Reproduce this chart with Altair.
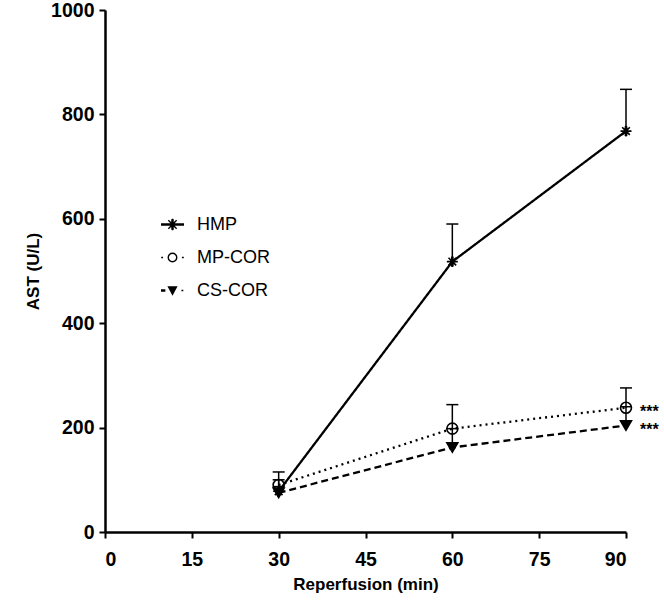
import altair as alt
import pandas as pd

# Reperfusion time points (min)
times = [30, 60, 90]

# Group names, in legend order
groups = ["HMP", "MP-COR", "CS-COR"]

# AST means and upper SD per group
hmp_mean = [78, 518, 768]
hmp_sd = [22, 72, 80]
mpcor_mean = [90, 198, 238]
mpcor_sd = [25, 46, 38]
cscor_mean = [75, 162, 204]
cscor_sd = [12, 36, 36]

# Significance markers at the last time point
sig_groups = ["MP-COR", "CS-COR"]
sig_labels = ["***", "***"]

means = {"HMP": hmp_mean, "MP-COR": mpcor_mean, "CS-COR": cscor_mean}
sds = {"HMP": hmp_sd, "MP-COR": mpcor_sd, "CS-COR": cscor_sd}

rows = []
for g in groups:
    for t, m, s in zip(times, means[g], sds[g]):
        rows.append({"group": g, "grp": g, "time": t, "mean": m, "upper": m + s})
df = pd.DataFrame(rows)

sig_df = pd.DataFrame({
    "group": sig_groups,
    "label": sig_labels,
    "time": [times[-1]] * len(sig_groups),
    "mean": [means[g][-1] for g in sig_groups],
})

FONT = "Liberation Sans"

# Marker shapes used on the plot
ASTERISK = ("M-1,0L1,0M0,-1L0,1M-0.7,-0.7L0.7,0.7M-0.7,0.7L0.7,-0.7"
            "M-0.1,-0.9L-0.1,0.9M0.1,-0.9L0.1,0.9")
MARKERS = [ASTERISK, "circle", "triangle-down"]

# Legend keys: line sample + marker drawn as stroked paths
KEY_HMP = ("M-1,-0.05L1,-0.05M-1,0.05L1,0.05"
           "M-0.5,0L0.5,0M0,-0.5L0,0.5"
           "M-0.36,-0.36L0.36,0.36M-0.36,0.36L0.36,-0.36"
           "M-0.05,-0.45L-0.05,0.45M0.05,-0.45L0.05,0.45")
KEY_MP = ("M-0.98,0L-0.82,0M0.82,0L0.98,0"
          "M0.37,0A0.37,0.37 0 1,0 -0.37,0A0.37,0.37 0 1,0 0.37,0Z")
KEY_CS = ("M-1,-0.05L-0.62,-0.05M-1,0.05L-0.62,0.05M0.78,0L0.94,0"
          "M-0.34,-0.3L0.34,-0.3L0,0.32Z"
          "M-0.285,-0.2L0.285,-0.2M-0.23,-0.1L0.23,-0.1"
          "M-0.175,0L0.175,0M-0.12,0.1L0.12,0.1M-0.066,0.2L0.066,0.2")

x_enc = alt.X("time:Q", scale=alt.Scale(domain=[0, 90], nice=False),
              axis=alt.Axis(values=[0, 15, 30, 45, 60, 75, 90],
                            title="Reperfusion (min)"))
y_enc = alt.Y("mean:Q", scale=alt.Scale(domain=[0, 1000], nice=False),
              axis=alt.Axis(values=[0, 200, 400, 600, 800, 1000], format="d",
                            title="AST (U/L)"))

base = alt.Chart(df)

# Upper error bars with caps
err = base.mark_rule(color="black", strokeWidth=1.5).encode(
    x=x_enc, y=y_enc, y2="upper:Q"
)
caps = base.mark_tick(color="black", orient="horizontal", size=12,
                      thickness=1.5, opacity=1).encode(
    x="time:Q", y="upper:Q"
)

lines = base.mark_line(color="black", strokeWidth=2.3).encode(
    x="time:Q",
    y="mean:Q",
    detail="group:N",
    strokeDash=alt.StrokeDash(
        "grp:N",
        scale=alt.Scale(domain=groups, range=[[1, 0], [2, 4], [7, 4]]),
        legend=None,
    ),
)

points = base.mark_point(stroke="black", strokeWidth=1.6, opacity=1,
                         size=120).encode(
    x="time:Q",
    y="mean:Q",
    shape=alt.Shape("grp:N", scale=alt.Scale(domain=groups, range=MARKERS),
                    legend=None),
    fill=alt.Fill("grp:N",
                  scale=alt.Scale(domain=groups,
                                  range=["black", "transparent", "black"]),
                  legend=None),
)

# Legend carrier: no marks drawn, entries come from the explicit domain
legend_layer = base.transform_filter("false").mark_point(
    filled=False, color="black", strokeWidth=1.4, opacity=1
).encode(
    x="time:Q",
    y="mean:Q",
    shape=alt.Shape(
        "group:N",
        scale=alt.Scale(domain=groups, range=[KEY_HMP, KEY_MP, KEY_CS]),
        legend=alt.Legend(
            title=None, orient="none", legendX=55, legendY=202,
            symbolSize=529, symbolStrokeWidth=1.4, symbolStrokeColor="black",
            symbolOpacity=1,
            labelFont=FONT, labelFontSize=18, labelColor="black",
            labelOffset=12, rowPadding=11, padding=0,
        ),
    ),
)

sig = alt.Chart(sig_df).mark_text(
    align="left", baseline="middle", dx=14, dy=4, font=FONT,
    fontWeight="bold", fontSize=16, color="black"
).encode(x="time:Q", y="mean:Q", text="label:N")

chart = alt.layer(err, caps, lines, points, legend_layer, sig).resolve_scale(
    shape="independent", fill="independent"
).resolve_legend(
    shape="independent"
).properties(
    width=521, height=522,
    autosize=alt.AutoSizeParams(type="none"),
    padding={"left": 105, "top": 10, "right": 38, "bottom": 74},
).configure_view(stroke=None).configure_axis(
    grid=False,
    domainColor="black", domainWidth=2.5,
    tickColor="black", tickWidth=2, tickSize=6,
    labelFont=FONT, labelFontSize=19.5, labelFontWeight="bold", labelColor="black",
    titleFont=FONT, titleFontSize=17, titleFontWeight="bold", titleColor="black",
).configure_axisX(
    labelPadding=12, titlePadding=8
).configure_axisY(
    labelPadding=5, titlePadding=8
)

chart.save("out.html", embed_options={"renderer": "svg", "actions": False})
